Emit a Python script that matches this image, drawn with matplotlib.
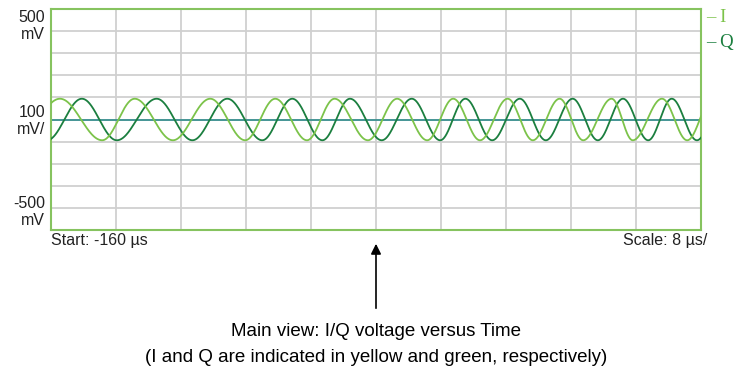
import numpy as np
import matplotlib.pyplot as plt

# extrema times (us), alternating peak / trough, first one is a peak
i_ext_t = [-158.9, -153.7, -149.7, -145.0, -140.4, -136.1, -132.4, -128.5, -125.1, -121.0, -117.4,
           -113.7, -110.5, -107.2, -103.8, -100.7, -97.4, -94.5, -91.0, -88.4, -84.8, -81.7]
q_ext_t = [-156.2, -151.9, -147.0, -142.6, -138.3, -134.0, -130.3, -126.6, -123.2, -119.3, -115.6,
           -112.1, -109.0, -105.7, -102.3, -99.1, -95.8, -92.7, -89.6, -86.5, -83.6, -80.5]
amp_mv = 94
t_start, t_stop = -160, -80

t = np.linspace(t_start, t_stop, 1600)


def trace(ext_t):
    ext_t = np.array(ext_t)
    ph = np.pi * np.arange(len(ext_t))
    # extend by one half-cycle on each end so the edges keep going
    ext_t = np.r_[ext_t[0] - (ext_t[1] - ext_t[0]), ext_t, ext_t[-1] + (ext_t[-1] - ext_t[-2])]
    ph = np.r_[-np.pi, ph, ph[-1] + np.pi]
    return amp_mv * np.cos(np.interp(t, ext_t, ph))


col_i = '#7cc34a'
col_q = '#1b7f3f'
frame = '#86c35f'
txt = '#222222'

fig = plt.figure(figsize=(7.39, 3.72), dpi=100)
ax = fig.add_axes([51/739, 1 - 230/372, 650/739, 221/372])
ax.set_xlim(t_start, t_stop)
ax.set_ylim(-500, 500)
ax.set_xticks(np.linspace(t_start, t_stop, 11))
ax.set_yticks(np.linspace(-500, 500, 11))
ax.tick_params(length=0, labelbottom=False, labelleft=False)
ax.grid(True, color='#d0d0d0', linewidth=1.3)
for s in ax.spines.values():
    s.set_color(frame)
    s.set_linewidth(1.5)

ax.axhline(0, color='#2e8b8b', linewidth=1.2, zorder=2)
ax.plot(t, trace(q_ext_t), color=col_q, linewidth=1.3, zorder=3)
ax.plot(t, trace(i_ext_t), color=col_i, linewidth=1.3, zorder=3)

lf = ['Liberation Sans', 'DejaVu Sans']
fig.text(45/739, 1 - 26/372, '500\nmV', ha='right', va='center', fontsize=11.5, family=lf,
         linespacing=1.15, color=txt)
fig.text(45/739, 1 - 121/372, '100\nmV/', ha='right', va='center', fontsize=11.5, family=lf,
         linespacing=1.15, color=txt)
fig.text(45/739, 1 - 212/372, '-500\nmV', ha='right', va='center', fontsize=11.5, family=lf,
         linespacing=1.15, color=txt)
fig.text(51/739, 1 - 241/372, 'Start: -160 µs', ha='left', va='center', fontsize=11.5, family=lf,
         color=txt)
fig.text(707/739, 1 - 241/372, 'Scale: 8 µs/', ha='right', va='center', fontsize=11.5, family=lf,
         color=txt)

sf = ['Liberation Serif', 'DejaVu Serif']
fig.text(706/739, 1 - 18/372, '– I', ha='left', va='center', fontsize=13.5, family=sf, color=col_i)
fig.text(706/739, 1 - 42/372, '– Q', ha='left', va='center', fontsize=13.5, family=sf, color=col_q)

fig.patches.append(plt.matplotlib.patches.FancyArrowPatch(
    (376/739, 1 - 311/372), (376/739, 1 - 241/372), transform=fig.transFigure,
    arrowstyle='-|>,head_length=6,head_width=3', color='black', linewidth=1.2))

cf = ['Liberation Sans Narrow', 'Liberation Sans', 'DejaVu Sans']
fig.text(376/739, 1 - 331/372, 'Main view: I/Q voltage versus Time', ha='center', va='center',
         fontsize=13.5, family=cf)
fig.text(376/739, 1 - 358/372, '(I and Q are indicated in yellow and green, respectively)',
         ha='center', va='center', fontsize=13.5, family=cf)

fig.savefig('out.png', dpi=100)
